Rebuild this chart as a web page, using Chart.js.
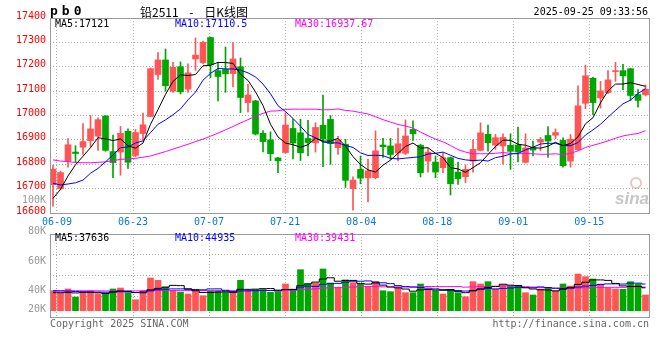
<!DOCTYPE html>
<html>
<head>
<meta charset="utf-8">
<title>铅2511 日K线图</title>
<script src="https://cdn.jsdelivr.net/npm/chart.js@4.4.1/dist/chart.umd.min.js"></script>
<style>
  body { margin: 0; background: #fff; }
  #wrap { position: relative; width: 660px; height: 360px; overflow: hidden; }
  canvas { position: absolute; left: 0; }
  #price { top: 0; }
  #vol { top: 190px; }
  .txt { position: absolute; font-family: "DejaVu Sans Mono", monospace; font-size: 10px; line-height: 12px; white-space: pre; }
</style>
</head>
<body>
<div id="wrap">
  <canvas id="price" width="660" height="230"></canvas>
  <canvas id="vol" width="660" height="170"></canvas>
  <div class="txt" style="left:50px;top:3px;font-size:13px;font-weight:bold;letter-spacing:4px;line-height:16px">pb0</div>
  <div class="txt" style="left:140px;top:4px;font-family:'Noto Sans CJK SC';font-size:12px;line-height:16px;word-spacing:8px">铅2511 - 日K线图</div>
  <div class="txt" style="right:12px;top:6px">2025-09-25 09:33:56</div>
  <div class="txt" style="left:50px;top:318px;color:#666">Copyright 2025 SINA.COM</div>
  <div class="txt" style="right:11px;top:318px;color:#666">http://finance.sina.com.cn</div>
</div>
<script>
// date labels under the price panel
const xTickLabels = ['06-09', '06-23', '07-07', '07-21', '08-04', '08-18', '09-01', '09-15'];

// daily OHLC, 80 sessions (06-06 .. 09-25)
const openP = [16716,16700,16812,16850,16870,16897,16915,16998,16852,16850,
  16935,16836,16926,16996,17168,17228,17100,17200,17108,17232,
  17217,17320,17184,17189,17172,17200,17053,17060,16927,16900,
  16826,16848,16947,16929,16906,16888,16960,16984,16868,16882,
  16700,16779,16744,16745,16879,16875,16846,16845,16943,16878,
  16813,16809,16786,16827,16768,16749,16813,16857,16923,16878,
  16875,16878,16879,16808,16867,16891,16918,16919,16898,16813,
  16860,17050,17153,17072,17094,17180,17184,17192,17086,17085];
const highP = [16797,16772,16905,16876,16967,17000,16990,17000,16920,16955,
  16945,16943,17010,17195,17258,17273,17218,17220,17212,17318,
  17305,17322,17215,17281,17299,17236,17128,17062,16938,16933,
  16828,17012,16985,16985,16980,16970,17084,17000,16915,16902,
  16748,16834,16820,16937,16906,16906,16948,16982,16978,16882,
  16864,16834,16847,16830,16809,16797,16900,16970,16961,16923,
  16925,16925,16952,16925,16895,16910,16955,16945,16908,16922,
  17122,17207,17157,17140,17184,17218,17210,17194,17106,17125];
const lowP = [16628,16694,16788,16808,16840,16870,16857,16853,16745,16755,
  16783,16830,16900,16996,17148,17100,17095,17088,17095,17185,
  17212,17155,17060,17095,17117,17012,17015,16920,16851,16815,
  16765,16846,16822,16815,16834,16850,16790,16800,16840,16705,
  16612,16720,16645,16740,16828,16820,16814,16840,16898,16748,
  16768,16745,16765,16674,16717,16724,16768,16855,16854,16861,
  16800,16779,16810,16805,16834,16855,16828,16905,16788,16788,
  16858,17028,17003,17030,17090,17140,17106,17062,17034,17080];
const closeP = [16780,16766,16880,16844,16893,16945,16983,16857,16807,16927,
  16808,16930,16962,17192,17228,17122,17198,17097,17175,17248,
  17300,17208,17160,17171,17232,17074,17084,16924,16893,16843,
  16814,16961,16887,16847,16889,16951,16903,16885,16900,16734,
  16735,16743,16773,16855,16872,16840,16884,16916,16925,16765,
  16850,16768,16827,16720,16741,16779,16861,16929,16888,16909,
  16910,16853,16850,16867,16858,16902,16895,16930,16794,16903,
  17040,17163,17053,17101,17146,17183,17163,17082,17062,17108];

// price moving averages as drawn
const ma5 = [16660,16697,16752,16798,16833,16868,16909,16904,16897,16904,
  16876,16866,16887,16964,17024,17087,17140,17167,17164,17168,
  17204,17206,17218,17217,17214,17169,17144,17097,17041,16964,
  16912,16887,16880,16870,16880,16907,16895,16895,16906,16875,
  16831,16799,16777,16768,16796,16817,16845,16873,16887,16866,
  16868,16845,16827,16786,16781,16767,16786,16806,16840,16873,
  16899,16898,16882,16878,16868,16866,16874,16890,16876,16885,
  16912,16966,16991,17052,17101,17129,17129,17135,17127,17120];
const ma10 = [16722,16715,16719,16724,16735,16763,16783,16810,16838,16868,
  16871,16887,16896,16930,16964,16982,17003,17027,17064,17096,
  17145,17173,17193,17191,17191,17186,17175,17158,17129,17089,
  17040,17016,16988,16956,16922,16909,16891,16887,16888,16877,
  16869,16847,16836,16837,16835,16824,16822,16825,16828,16831,
  16842,16845,16850,16837,16824,16818,16815,16817,16813,16827,
  16833,16842,16844,16859,16870,16883,16886,16886,16877,16876,
  16889,16920,16941,16964,16993,17021,17048,17063,17090,17110];
const ma30 = [16818,16813,16811,16807,16806,16806,16808,16810,16815,16820,
  16822,16824,16829,16834,16843,16852,16862,16872,16882,16893,
  16903,16915,16928,16941,16955,16969,16983,16997,17009,17018,
  17019,17025,17026,17026,17026,17026,17023,17024,17027,17021,
  17018,17012,17006,16995,16983,16973,16963,16957,16948,16932,
  16917,16903,16892,16877,16860,16850,16843,16843,16843,16845,
  16848,16845,16843,16844,16843,16841,16841,16843,16839,16845,
  16855,16869,16878,16886,16896,16907,16916,16922,16926,16938];

// volume (lots) and its moving averages
const volume = [33300,29500,36200,22800,29500,33300,27800,29500,36200,37800,
  29500,18300,33300,54500,50600,39500,33300,31100,27800,35000,
  25000,33300,33300,31100,29500,50600,33300,35000,35000,30600,
  31100,44500,35000,68300,44500,46200,69500,46200,39000,51200,
  46700,44500,40000,48400,33300,31700,37300,30000,30000,44500,
  34500,33300,27800,35600,30000,23300,48400,44500,48400,36200,
  42800,41100,41100,30000,26200,36200,39000,33300,44500,41100,
  61200,56700,52800,44500,37300,36200,35600,48400,44500,26200];
const volMa5 = [30000,30000,30200,29600,30300,30300,29900,28600,31300,32900,
  32200,30300,31000,34700,37200,39200,42200,41800,36500,33300,
  30400,30400,30900,31500,30400,35600,35600,35900,36700,36900,
  33000,35200,35200,41900,44700,47700,52700,54900,49100,50400,
  50500,45500,44300,46200,42600,39600,38100,36100,32500,34700,
  35300,34500,34000,35100,32200,30000,33000,36400,38900,40200,
  44100,42600,41900,38200,36200,34900,34500,32900,35800,38800,
  43800,47400,51300,51300,50500,45500,41300,40400,40400,38200];
const volMa10 = [33000,32800,32500,32000,31600,31300,31000,30800,31000,31600,
  31200,30100,29800,33000,35100,35700,36300,36400,35600,35300,
  34800,36300,36400,34000,31900,33000,33000,33400,34100,33700,
  34300,35400,35600,39300,40800,40400,44000,45100,45500,47600,
  49100,49100,49600,47700,46500,45100,41800,40200,39400,38700,
  37500,36300,35100,33800,33500,32700,33800,35200,37000,36200,
  37100,37800,39200,38600,38200,39500,38600,37400,37000,37500,
  39400,41000,42100,43600,44700,44700,44400,45900,45900,44400];
const volMa30 = [33500,33400,33400,33300,33200,33200,33100,33000,33000,33100,
  33100,33000,33000,33300,33600,33700,33700,33600,33500,33500,
  33400,33400,33400,33400,33300,33600,33600,33600,33600,33500,
  33400,33900,33900,35400,35900,36300,37700,38300,38400,38800,
  39400,40300,40500,40300,39700,39500,39600,39500,39600,39900,
  40300,40300,40100,40200,40200,39300,39800,40200,40600,40800,
  41200,41100,41300,40000,39400,39100,38000,37600,37800,37400,
  37900,38300,38800,38600,38800,38900,38900,39500,39900,39300];

const volTickLabels = ['100K', '80K', '60K', '40K', '20K'];
const priceLegend = ['MA5:17121', 'MA10:17110.5', 'MA30:16937.67'];
const volLegend = ['MA5:37636', 'MA10:44935', 'MA30:39431'];

// layout / style
const UP = '#ff5555', DOWN = '#00a600';
const GRID = '#aaaaaa', FRAME = '#999999';
const MA_COLORS = ['#000000', '#0000ff', '#ff00ff'];
const VOL_CANVAS_TOP = 190;
const volTickY = [200, 231, 261, 290, 309];   // page y of the volume axis labels
const xTickStart = 0.53, xTickStep = 10.14;   // sina puts a date line every 76px

Chart.defaults.font.family = '"DejaVu Sans Mono", monospace';
Chart.defaults.font.size = 10;

const idx = closeP.map((_, i) => i);
const barColor = ctx => closeP[ctx.dataIndex] >= openP[ctx.dataIndex] ? UP : DOWN;

function maLine(values, color, label, stepped) {
    return {
        type: 'line',
        label: label,
        data: values.map((v, i) => ({ x: i, y: v })),
        borderColor: color,
        borderWidth: 1,
        pointRadius: 0,
        fill: false,
        tension: 0,
        stepped: stepped ? 'middle' : false,
        order: 0
    };
}

function xAxis(showLabels, height) {
    return {
        type: 'linear',
        min: -0.4,
        max: 79.6,
        offset: false,
        afterBuildTicks: s => { s.ticks = xTickLabels.map((_, k) => ({ value: xTickStart + k * xTickStep })); },
        afterFit: s => { s.height = height; },
        ticks: {
            display: showLabels,
            color: '#0a78d2',
            padding: 3,
            maxRotation: 0,
            autoSkip: false,
            callback: (v, k) => xTickLabels[k]
        },
        grid: { color: GRID, drawTicks: false, offset: false },
        border: { display: false, dash: [1, 2] }
    };
}

// gray frame round the plot area
const frame = {
    id: 'frame',
    afterDatasetsDraw(chart) {
        const { ctx, chartArea: a } = chart;
        ctx.save();
        ctx.strokeStyle = FRAME;
        ctx.lineWidth = 1;
        ctx.strokeRect(Math.round(a.left) + 0.5, Math.round(a.top) + 0.5,
            Math.round(a.width) - 1, Math.round(a.height));
        ctx.restore();
    }
};

// "MA5:xxx  MA10:xxx  MA30:xxx" inside the top of each panel
const maLegend = {
    id: 'maLegend',
    afterDraw(chart, args, opts) {
        const { ctx, chartArea: a } = chart;
        ctx.save();
        ctx.font = '10px "DejaVu Sans Mono"';
        ctx.textBaseline = 'middle';
        opts.texts.forEach((t, k) => {
            ctx.fillStyle = MA_COLORS[k];
            ctx.fillText(t, a.left + opts.dx[k], a.top + opts.dy);
        });
        ctx.restore();
    }
};

const watermark = {
    id: 'watermark',
    afterDatasetsDraw(chart) {
        const { ctx, chartArea: a } = chart;
        ctx.save();
        ctx.strokeStyle = 'rgba(225,120,120,0.45)';
        ctx.lineWidth = 2;
        ctx.beginPath();
        ctx.arc(a.right - 14, a.bottom - 30, 5, 0, Math.PI * 2);
        ctx.stroke();
        ctx.font = 'italic bold 17px "Liberation Sans"';
        ctx.fillStyle = 'rgba(150,150,150,0.55)';
        ctx.textAlign = 'right';
        ctx.textBaseline = 'middle';
        ctx.fillText('sina', a.right - 1, a.bottom - 14);
        ctx.restore();
    }
};

const volLabels = {
    id: 'volLabels',
    afterDraw(chart) {
        const ctx = chart.ctx;
        ctx.save();
        ctx.font = '10px "DejaVu Sans Mono"';
        ctx.fillStyle = '#999999';
        ctx.textAlign = 'right';
        ctx.textBaseline = 'middle';
        volTickLabels.forEach((t, k) => ctx.fillText(t, 46, volTickY[k] - VOL_CANVAS_TOP));
        ctx.restore();
    }
};

new Chart(document.getElementById('price'), {
    type: 'bar',
    data: {
        datasets: [
            maLine(ma5, MA_COLORS[0], 'MA5'),
            maLine(ma10, MA_COLORS[1], 'MA10'),
            maLine(ma30, MA_COLORS[2], 'MA30'),
            {
                label: 'body',
                data: idx.map(i => ({ x: i, y: [openP[i], closeP[i]] })),
                backgroundColor: barColor,
                barThickness: 6,
                minBarLength: 1,
                grouped: false,
                order: 1
            },
            {
                label: 'wick',
                data: idx.map(i => ({ x: i, y: [lowP[i], highP[i]] })),
                backgroundColor: barColor,
                barThickness: 1,
                grouped: false,
                order: 2
            }
        ]
    },
    options: {
        responsive: false,
        animation: false,
        events: [],
        layout: { padding: { top: 18, right: 10, left: 0, bottom: 0 }, autoPadding: false },
        plugins: {
            legend: { display: false },
            tooltip: { enabled: false },
            maLegend: { texts: priceLegend, dx: [5, 125, 245], dy: 6 }
        },
        scales: {
            x: xAxis(true, 17),
            y: {
                min: 16600,
                max: 17400,
                afterFit: s => { s.width = 50; },
                ticks: { stepSize: 100, color: '#ff0000', padding: 4, labelOffset: -2, callback: v => String(v) },
                grid: { color: GRID, drawTicks: false },
                border: { display: false, dash: [1, 2] }
            }
        }
    },
    plugins: [frame, maLegend, watermark]
});

new Chart(document.getElementById('vol'), {
    type: 'bar',
    data: {
        datasets: [
            maLine(volMa5, MA_COLORS[0], 'MA5', true),
            maLine(volMa10, MA_COLORS[1], 'MA10', true),
            maLine(volMa30, MA_COLORS[2], 'MA30', true),
            {
                label: 'volume',
                data: idx.map(i => ({ x: i, y: volume[i] })),
                backgroundColor: barColor,
                barThickness: 6,
                grouped: false,
                order: 1
            }
        ]
    },
    options: {
        responsive: false,
        animation: false,
        events: [],
        layout: { padding: { top: 44, right: 10, left: 0, bottom: 0 }, autoPadding: false },
        plugins: {
            legend: { display: false },
            tooltip: { enabled: false },
            maLegend: { texts: volLegend, dx: [5, 125, 245], dy: 4.5 }
        },
        scales: {
            x: xAxis(false, 43),
            y: {
                min: -10500,
                max: 127800,
                afterBuildTicks: s => { s.ticks = [1, 2, 3].map(k => ({ value: s.min + k * (s.max - s.min) / 4 })); },
                afterFit: s => { s.width = 50; },
                ticks: { display: false },
                grid: { color: GRID, drawTicks: false },
                border: { display: false, dash: [1, 2] }
            }
        }
    },
    plugins: [frame, maLegend, volLabels]
});
</script>
</body>
</html>
